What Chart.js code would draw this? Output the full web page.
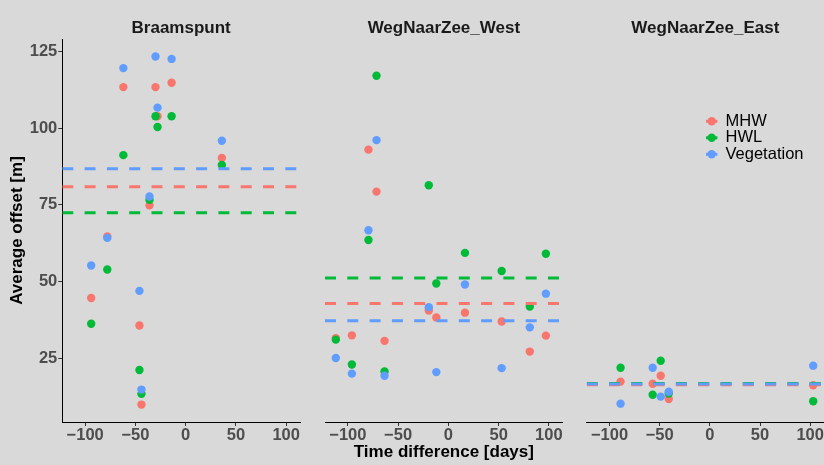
<!DOCTYPE html>
<html>
<head>
<meta charset="utf-8">
<title>Average offset vs time difference</title>
<script src="https://cdn.jsdelivr.net/npm/chart.js@4.4.1/dist/chart.umd.min.js"></script>
<style>
  html, body { margin: 0; padding: 0; background: #d9d9d9; }
  #wrap { position: relative; width: 824px; height: 465px; overflow: hidden; }
  #wrap canvas { position: absolute; left: 0; top: 0; }
</style>
</head>
<body>
<div id="wrap">
  <canvas id="panel0" width="824" height="465"></canvas>
  <canvas id="panel1" width="824" height="465"></canvas>
  <canvas id="panel2" width="824" height="465"></canvas>
</div>
<script>
// ---- data -------------------------------------------------------------
const sites = ['Braamspunt', 'WegNaarZee_West', 'WegNaarZee_East'];
const seriesNames = ['MHW', 'HWL', 'Vegetation'];

// Braamspunt
const braamDays = [-94, -78, -62, -46, -44, -36, -30, -28, -14, 36];
const braamMHW  = [44.6, 64.7, 113.4, 35.6, 9.8, 74.8, 113.4, 103.9, 114.8, 90.3];
const braamHWL  = [36.2, 53.9, 91.2, 21.1, 13.3, 76.6, 103.9, 100.4, 103.9, 88.0];
const braamVeg  = [55.2, 64.2, 119.6, 46.9, 14.7, 77.7, 123.4, 106.7, 122.6, 95.9];
const braamMean = [80.9, 72.4, 86.8];   // MHW, HWL, Vegetation

// WegNaarZee_West
const westDays = [-112, -96, -79.5, -71.5, -63.5, -19.5, -12, 16.5, 53, 81, 97];
const westMHW  = [31.5, 32.4, 93.0, 79.3, 30.6, 40.5, 38.2, 39.8, 36.9, 27.1, 32.3];
const westHWL  = [31.0, 22.9, 63.5, 117.1, 20.6, 81.4, 49.3, 59.3, 53.4, 41.8, 59.0];
const westVeg  = [25.0, 19.9, 66.7, 96.1, 19.2, 41.6, 20.4, 49.0, 21.7, 35.0, 46.0];
const westMean = [42.8, 51.1, 37.2];

// WegNaarZee_East
const eastDays = [-89, -57, -49, -41, 103];
const eastMHW  = [17.3, 16.6, 19.2, 11.6, 16.1];
const eastHWL  = [21.8, 13.0, 24.1, 13.4, 10.9];
const eastVeg  = [10.1, 21.8, 12.4, 14.0, 22.5];
const eastMean = [16.3, 16.7, 16.5];

// axes
const xTicks = [-100, -50, 0, 50, 100];
const xTickLabels = ['\u2212100', '\u221250', '0', '50', '100'];
const yTicks = [25, 50, 75, 100, 125];
const yTickLabels = ['25', '50', '75', '100', '125'];
const xDomain = [-122.75, 113.75];
const yDomain = [4.12, 129.1];

// ---- styling / layout -------------------------------------------------
const colors = ['#F8766D', '#00BA38', '#619CFF'];
const FONT = '"Liberation Sans", Arial, Helvetica, sans-serif';
const W = 824, H = 465;
const plotTop = 39, plotBottom = 422;
const panelLeft = [62.3, 325, 586.7];
const panelWidth = 237.7;

const siteDays = [braamDays, westDays, eastDays];
const siteValues = [
  [braamMHW, braamHWL, braamVeg],
  [westMHW, westHWL, westVeg],
  [eastMHW, eastHWL, eastVeg]
];
const siteMeans = [braamMean, westMean, eastMean];

// legend drawn inside the right-hand panel
const keyLegend = {
  id: 'keyLegend',
  afterDraw(chart) {
    const ctx = chart.ctx;
    ctx.save();
    seriesNames.forEach((name, s) => {
      const y = 121.3 + s * 16.5;
      ctx.strokeStyle = colors[s];
      ctx.lineWidth = 3;
      ctx.beginPath();
      ctx.moveTo(706, y);
      ctx.lineTo(717.4, y);
      ctx.stroke();
      ctx.fillStyle = colors[s];
      ctx.beginPath();
      ctx.arc(711.7, y, 4.2, 0, Math.PI * 2);
      ctx.fill();
      ctx.fillStyle = '#000000';
      ctx.font = '16.5px ' + FONT;
      ctx.textBaseline = 'middle';
      ctx.textAlign = 'left';
      ctx.fillText(name, 725.5, y);
    });
    ctx.restore();
  }
};

function buildDatasets(i) {
  const ds = [];
  // mean lines (drawn above the points)
  for (let s = 0; s < 3; s++) {
    const m = siteMeans[i][s];
    ds.push({
      label: seriesNames[s] + ' mean',
      data: [{ x: xDomain[0], y: m }, { x: xDomain[1], y: m }],
      showLine: true,
      borderColor: colors[s],
      borderWidth: 3,
      borderDash: [11, 11.3],
      borderCapStyle: 'butt',
      pointRadius: 0,
      pointHoverRadius: 0,
      fill: false,
      order: 3 - s
    });
  }
  // observations
  for (let s = 0; s < 3; s++) {
    ds.push({
      label: seriesNames[s],
      data: siteDays[i].map((d, k) => ({ x: d, y: siteValues[i][s][k] })),
      showLine: false,
      backgroundColor: colors[s],
      borderWidth: 0,
      pointRadius: 4.2,
      pointBorderWidth: 0,
      pointHoverRadius: 4.2,
      order: 6 - s
    });
  }
  return ds;
}

function makePanel(i) {
  const left = panelLeft[i];
  const right = left + panelWidth;
  const gridOpts = {
    display: true,
    drawOnChartArea: false,
    drawTicks: true,
    tickLength: 4,
    tickWidth: 1,
    tickColor: '#333333'
  };
  return new Chart(document.getElementById('panel' + i), {
    type: 'scatter',
    data: { datasets: buildDatasets(i) },
    plugins: i === 2 ? [keyLegend] : [],
    options: {
      responsive: false,
      animation: false,
      devicePixelRatio: 1,
      events: [],
      layout: {
        autoPadding: false,
        padding: {
          left: i === 0 ? 0 : left,
          right: Math.max(0, W - right),
          top: 0,
          bottom: 0
        }
      },
      plugins: {
        legend: { display: false },
        tooltip: { enabled: false },
        title: {
          display: true,
          text: sites[i],
          fullSize: false,
          color: '#1a1a1a',
          font: { family: FONT, size: 17, weight: 'bold', lineHeight: 1.2 },
          padding: { top: 18, bottom: plotTop - 18 - 17 * 1.2 }
        }
      },
      scales: {
        x: {
          type: 'linear',
          min: xDomain[0],
          max: xDomain[1],
          afterBuildTicks: (sc) => { sc.ticks = xTicks.map(v => ({ value: v })); },
          afterFit: (sc) => {
            sc.height = H - plotBottom;
            // tick labels may overhang the panel edge, as in the facet grid
            sc.paddingLeft = 0;
            sc.paddingRight = 0;
          },
          grid: gridOpts,
          border: { display: true, color: '#000000', width: 1 },
          ticks: {
            color: '#4d4d4d',
            font: { family: FONT, size: 16.5, weight: 'bold' },
            padding: 0,
            maxRotation: 0,
            autoSkip: false,
            callback: (v) => xTickLabels[xTicks.indexOf(v)]
          },
          title: {
            display: i === 1,
            text: 'Time difference [days]',
            color: '#000000',
            font: { family: FONT, size: 17, weight: 'bold' },
            padding: { top: 0, bottom: 2.5 }
          }
        },
        y: {
          type: 'linear',
          display: i === 0,
          min: yDomain[0],
          max: yDomain[1],
          afterBuildTicks: (sc) => { sc.ticks = yTicks.map(v => ({ value: v })); },
          afterFit: (sc) => { sc.width = i === 0 ? panelLeft[0] : 0; },
          grid: gridOpts,
          border: { display: true, color: '#000000', width: 1 },
          ticks: {
            color: '#4d4d4d',
            font: { family: FONT, size: 16.5, weight: 'bold' },
            padding: 1,
            autoSkip: false,
            callback: (v) => yTickLabels[yTicks.indexOf(v)]
          },
          title: {
            display: true,
            text: 'Average offset [m]',
            color: '#000000',
            font: { family: FONT, size: 17, weight: 'bold' },
            padding: { top: 7.5, bottom: 0 }
          }
        }
      }
    }
  });
}

[0, 1, 2].forEach(makePanel);
</script>
</body>
</html>
